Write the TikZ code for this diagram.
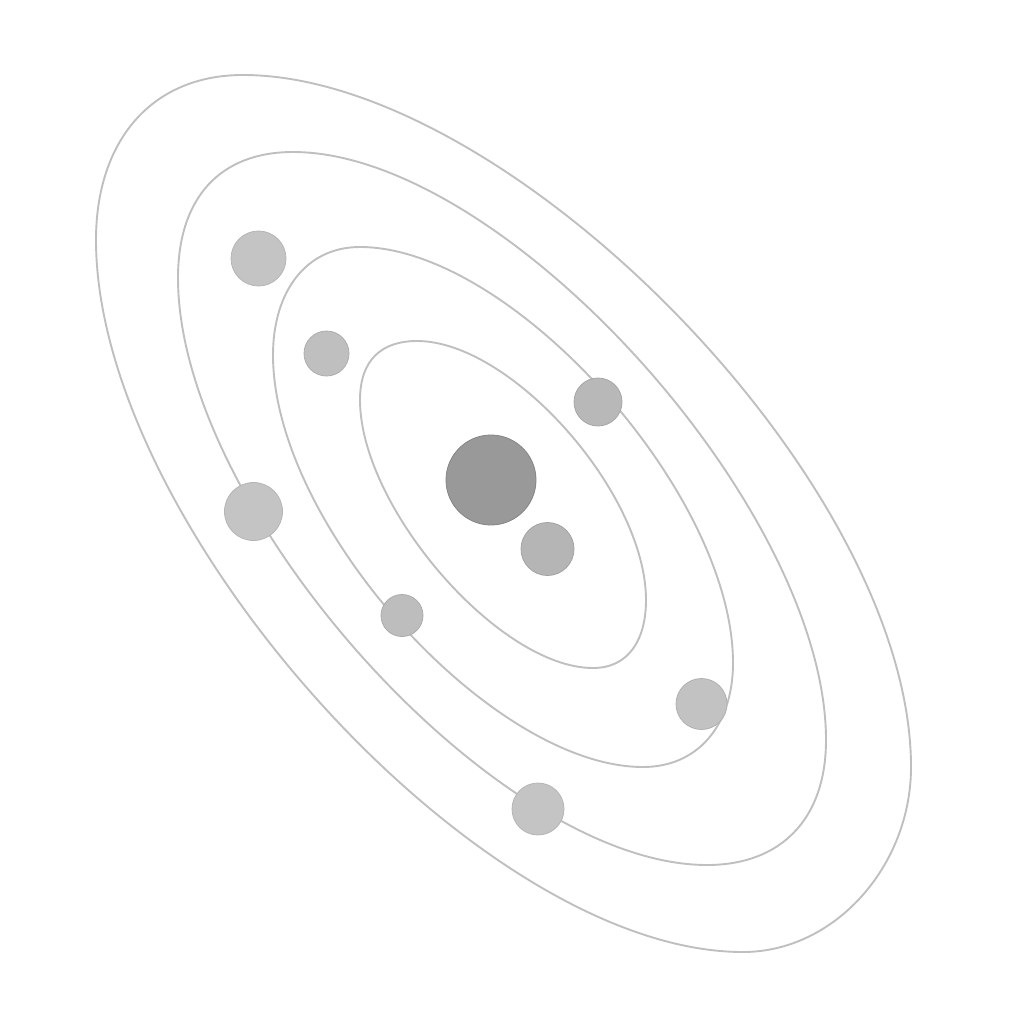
\documentclass[tikz,border=0pt]{standalone}
\begin{document}
\begin{tikzpicture}[x=1pt,y=-1pt,
  orbit/.style={draw=black!25,line width=1.9pt},
  body/.style 2 args={circle,draw=black!#2,line width=0.8pt,fill=black!#1,inner sep=0pt},
]
\useasboundingbox (0,0) rectangle (1024,1024);
% orbits (closed curves through their top, left, bottom and right extreme points)
\draw[orbit] (417,341) .. controls (381.7,341) and (360,359.8) .. (360,400)
  .. controls (360,507.2) and (498.9,668) .. (593,668)
  .. controls (628.3,668) and (646,640.2) .. (646,600)
  .. controls (646,492.8) and (511.1,341) .. cycle;
\draw[orbit] (360,247) .. controls (305,247) and (273,292.9) .. (273,355)
  .. controls (273,525.4) and (492.2,767) .. (643,767)
  .. controls (698,767) and (733,725.1) .. (733,663)
  .. controls (733,492.6) and (510.8,247) .. cycle;
\draw[orbit] (293,152) .. controls (220.1,152) and (178,197.8) .. (178,278)
  .. controls (178,509.7) and (496.4,865) .. (707,865)
  .. controls (779.9,865) and (826,820.2) .. (826,740)
  .. controls (826,508.3) and (503.6,152) .. cycle;
\draw[orbit] (243,75) .. controls (151.1,75) and (96,141.3) .. (96,240)
  .. controls (96,524.6) and (477.8,952) .. (743,952)
  .. controls (834.9,952) and (911,865.7) .. (911,767)
  .. controls (911,482.4) and (508.2,75) .. cycle;
% sun and planets
\node[body={40}{48},minimum size=90pt] (sun) at (491,480) {};
\node[body={29}{36},minimum size=53pt] (p1) at (547.5,549) {};
\node[body={28}{35},minimum size=48pt] (p2) at (598,402) {};
\node[body={25}{32},minimum size=45pt] (p3) at (326.5,353.5) {};
\node[body={23}{29},minimum size=55pt] (p4) at (258.5,258.5) {};
\node[body={23}{29},minimum size=58pt] (p5) at (253.5,511.5) {};
\node[body={26}{33},minimum size=42pt] (p6) at (402,615.5) {};
\node[body={24}{31},minimum size=51pt] (p7) at (701.5,704) {};
\node[body={23}{29},minimum size=52pt] (p8) at (538,809) {};
\end{tikzpicture}
\end{document}
